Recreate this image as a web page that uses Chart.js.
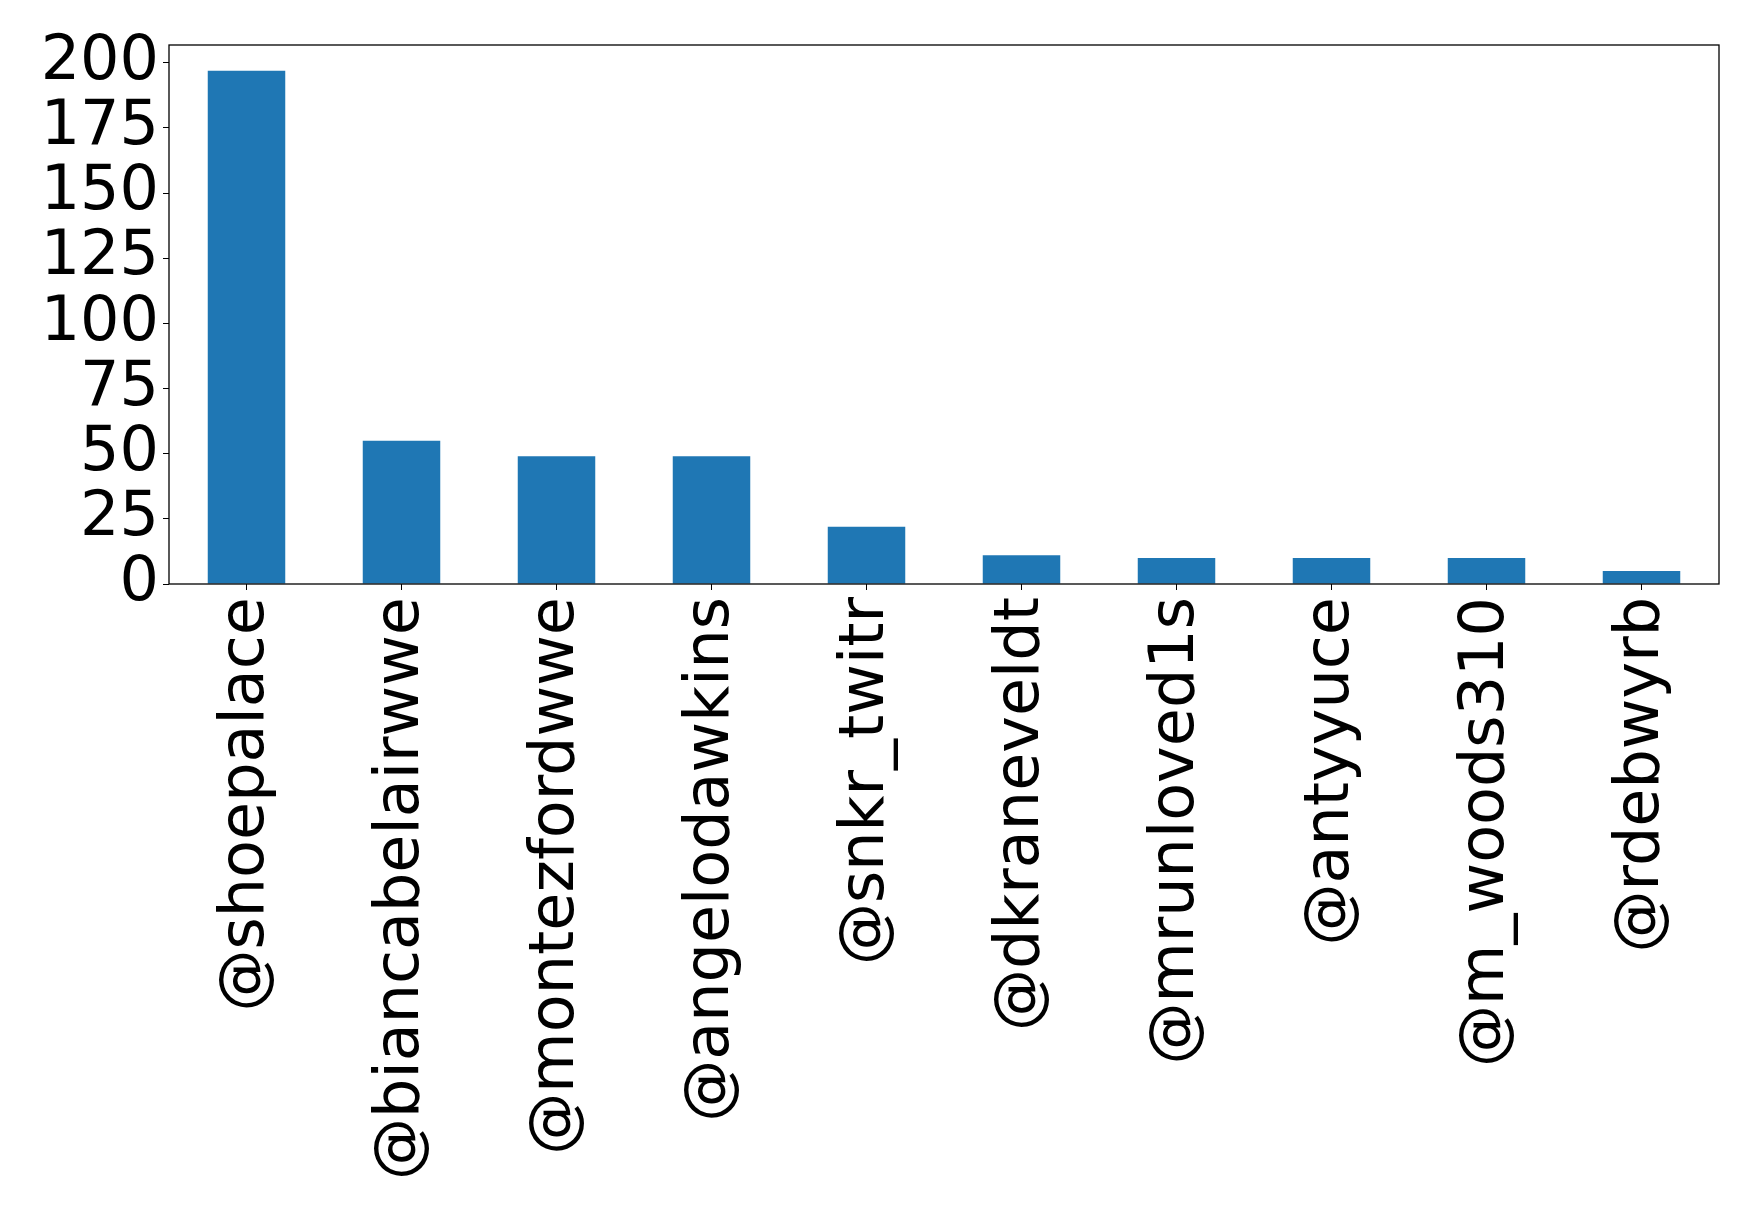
<!DOCTYPE html>
<html>
<head>
<meta charset="utf-8">
<script src="https://cdn.jsdelivr.net/npm/chart.js@4/dist/chart.umd.min.js"></script>
<style>
  html, body { margin: 0; padding: 0; background: #fff; }
  #wrap { width: 1758px; height: 1221px; }
</style>
</head>
<body>
<div id="wrap"><canvas id="chartMentions"></canvas></div>
<script>
var users = ['@shoepalace', '@biancabelairwwe', '@montezfordwwe', '@angelodawkins', '@snkr_twitr',
             '@dkraneveldt', '@mrunloved1s', '@antyyuce', '@m_woods310', '@rdebwyrb'];
var counts = [197, 55, 49, 49, 22, 11, 10, 10, 10, 5];
var yTicks = [0, 25, 50, 75, 100, 125, 150, 175, 200];

// box around the plot area, like matplotlib's spines
var frame = {
    id: 'frame',
    afterDraw: function(chart) {
        var a = chart.chartArea, ctx = chart.ctx;
        ctx.save();
        ctx.strokeStyle = '#000';
        ctx.lineWidth = 1.3;
        ctx.strokeRect(a.left, a.top, a.right - a.left, a.bottom - a.top);
        ctx.restore();
    }
};

var chartMentions = new Chart(document.getElementById("chartMentions"), {
    type: 'bar',
    data: {
        labels: users,
        datasets: [{
            data: counts,
            backgroundColor: '#1f77b4',
            borderWidth: 0,
            barPercentage: 0.5,
            categoryPercentage: 1.0
        }]
    },
    options: {
        responsive: true,
        maintainAspectRatio: false,
        animation: false,
        layout: { padding: { left: 0, right: 39, top: 45, bottom: 0 } },
        plugins: { legend: { display: false }, tooltip: { enabled: false } },
        scales: {
            x: {
                offset: true,
                grid: { display: true, drawOnChartArea: false, tickLength: 6, color: '#000', offset: false },
                border: { display: false },
                ticks: {
                    color: '#000',
                    minRotation: 90,
                    maxRotation: 90,
                    autoSkip: false,
                    padding: 7,
                    font: { family: 'DejaVu Sans', size: 62 }
                },
                afterFit: function(scale) { scale.height = 1221 - 584; }
            },
            y: {
                min: 0,
                max: 206.85,
                afterBuildTicks: function(scale) {
                    scale.ticks = yTicks.map(function(v) { return { value: v }; });
                },
                grid: { display: true, drawOnChartArea: false, tickLength: 6, color: '#000' },
                border: { display: false },
                ticks: {
                    color: '#000',
                    autoSkip: false,
                    padding: 4,
                    font: { family: 'DejaVu Sans', size: 62 }
                },
                afterFit: function(scale) { scale.width = 169; }
            }
        }
    },
    plugins: [frame]
});
</script>
</body>
</html>
